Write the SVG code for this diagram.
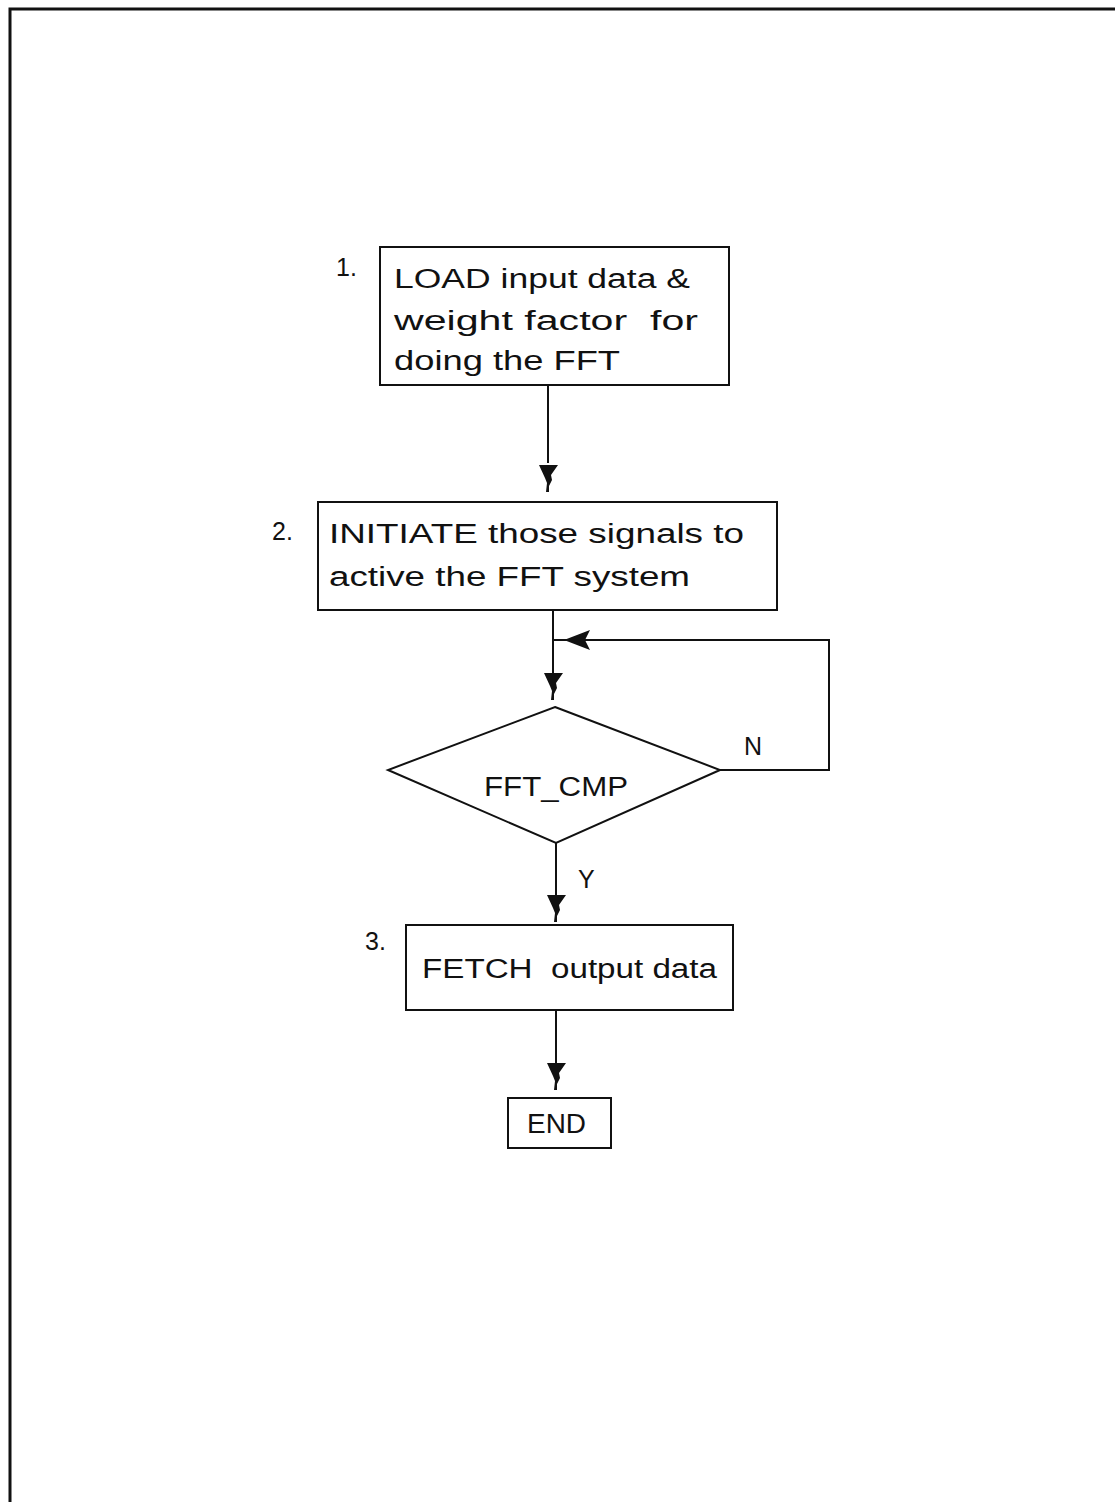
<svg xmlns="http://www.w3.org/2000/svg" width="1115" height="1502" viewBox="0 0 1115 1502">
  <style>
    .box { fill: #fff; stroke: #111; stroke-width: 2; }
    .wire { fill: none; stroke: #111; stroke-width: 2; }
    .head { fill: #111; }
    .txt { font-family: "Liberation Sans", Arial, sans-serif; font-size: 27px; fill: #111; }
    .lbl { font-family: "Liberation Sans", Arial, sans-serif; font-size: 25px; fill: #111; }
  </style>
  <defs>
    <!-- downward arrowhead with a ragged stem, tip at (0,0) bottom -->
    <path id="down" class="head" d="M-9,-27 L10,-27 L3,-17 L4,-12 L1,-6 L1,0 L-2,0 L-1,-9 L-3,-14 Z"/>
    <!-- leftward arrowhead, tip at (0,0) -->
    <path id="left" class="head" d="M0,0 L26,-10 L21,0 L26,10 Z"/>
  </defs>

  <rect width="1115" height="1502" fill="#fff"/>

  <!-- page frame -->
  <path d="M10,1502 L10,9 L1115,9" fill="none" stroke="#111" stroke-width="3"/>

  <!-- connectors -->
  <g id="connectors">
    <line class="wire" x1="548" y1="385" x2="548" y2="463"/>
    <use href="#down" x="548" y="492"/>

    <line class="wire" x1="553" y1="610" x2="553" y2="675"/>
    <use href="#down" x="553" y="700"/>

    <polyline class="wire" points="720,770 829,770 829,640 553,640"/>
    <use href="#left" x="564" y="640"/>

    <line class="wire" x1="556" y1="843" x2="556" y2="898"/>
    <use href="#down" x="556" y="922"/>

    <line class="wire" x1="556" y1="1010" x2="556" y2="1065"/>
    <use href="#down" x="556" y="1090"/>

    <text class="lbl" x="744" y="755">N</text>
    <text class="lbl" x="578" y="888">Y</text>
  </g>

  <!-- step 1 -->
  <g id="node-load">
    <rect class="box" x="380" y="247" width="349" height="138"/>
    <text class="lbl" x="336" y="276">1.</text>
    <text class="txt" x="394" y="288" textLength="296" lengthAdjust="spacingAndGlyphs">LOAD input data &amp;</text>
    <text class="txt" x="394" y="330" textLength="304" lengthAdjust="spacingAndGlyphs" xml:space="preserve">weight factor  for</text>
    <text class="txt" x="394" y="370" textLength="226" lengthAdjust="spacingAndGlyphs">doing the FFT</text>
  </g>

  <!-- step 2 -->
  <g id="node-initiate">
    <rect class="box" x="318" y="502" width="459" height="108"/>
    <text class="lbl" x="272" y="540">2.</text>
    <text class="txt" x="329" y="543" textLength="415" lengthAdjust="spacingAndGlyphs">INITIATE those signals to</text>
    <text class="txt" x="329" y="586" textLength="361" lengthAdjust="spacingAndGlyphs">active the FFT system</text>
  </g>

  <!-- completion test -->
  <g id="node-fftcmp">
    <polygon class="box" points="555,707 720,770 556,843 388,770"/>
    <text class="txt" x="484" y="796" textLength="144" lengthAdjust="spacingAndGlyphs">FFT_CMP</text>
  </g>

  <!-- step 3 -->
  <g id="node-fetch">
    <rect class="box" x="406" y="925" width="327" height="85"/>
    <text class="lbl" x="365" y="950">3.</text>
    <text class="txt" x="422" y="978" textLength="295" lengthAdjust="spacingAndGlyphs" xml:space="preserve">FETCH  output data</text>
  </g>

  <!-- end -->
  <g id="node-end">
    <rect class="box" x="508" y="1098" width="103" height="50"/>
    <text class="txt" x="527" y="1133" textLength="59" lengthAdjust="spacingAndGlyphs">END</text>
  </g>
</svg>
